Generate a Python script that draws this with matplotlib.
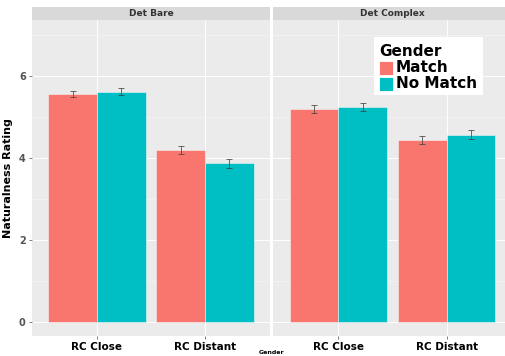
import matplotlib.pyplot as plt
from matplotlib.patches import Rectangle

# --- data ---
panels = ["Det Bare", "Det Complex"]
categories = ["RC Close", "RC Distant"]
groups = ["Match", "No Match"]
colors = ["#F8766D", "#00BFC4"]

bare_match = [5.55, 4.19]
bare_nomatch = [5.61, 3.86]
bare_match_err = [0.08, 0.105]
bare_nomatch_err = [0.085, 0.115]

complex_match = [5.19, 4.43]
complex_nomatch = [5.24, 4.56]
complex_match_err = [0.10, 0.105]
complex_nomatch_err = [0.10, 0.11]

yticks = [0, 2, 4, 6]

W, H = 506, 356
fig = plt.figure(figsize=(W / 100, H / 100), dpi=100)

def fx(px):
    return px / W

def fy(py):
    return 1 - py / H

panel_top, panel_bot, strip_top = 20, 336, 7
panel_w = 238
lefts = [32, 273.5]

series = [
    (bare_match, bare_nomatch, bare_match_err, bare_nomatch_err),
    (complex_match, complex_nomatch, complex_match_err, complex_nomatch_err),
]

for i, (title, (m, nm, me, nme)) in enumerate(zip(panels, series)):
    ax = fig.add_axes([fx(lefts[i]), fy(panel_bot), fx(panel_w), fy(panel_top) - fy(panel_bot)])
    ax.set_facecolor("#EBEBEB")
    xs = [1, 2]
    w = 0.45
    for vals, errs, off, c in [(m, me, -w / 2, colors[0]), (nm, nme, w / 2, colors[1])]:
        pos = [x + off for x in xs]
        ax.bar(pos, vals, width=w, color=c, edgecolor="#f4f4f4", linewidth=0.4, zorder=2)
        ax.errorbar(pos, vals, yerr=errs, fmt="none", ecolor="#444444", elinewidth=0.7,
                    capsize=2.5, capthick=0.7, alpha=0.8, zorder=3)
    ax.set_xlim(0.4, 2.6)
    ax.set_ylim(-0.35, 7.36)
    ax.set_yticks(yticks)
    ax.set_yticks([1, 3, 5, 7], minor=True)
    ax.set_xticks(xs)
    ax.set_xticklabels(categories, fontsize=7.5, fontweight="bold", color="black")
    ax.grid(True, which="major", color="white", linewidth=0.7, zorder=0)
    ax.grid(True, which="minor", axis="y", color="#F4F4F4", linewidth=0.5, zorder=0)
    ax.set_axisbelow(True)
    for s in ax.spines.values():
        s.set_visible(False)
    ax.tick_params(axis="both", which="major", length=2.5, color="#666666", width=0.6, pad=2)
    ax.tick_params(axis="both", which="minor", length=0)
    if i == 0:
        ax.set_yticklabels([str(t) for t in yticks], fontsize=7, fontweight="bold", color="#555555")
        ax.set_ylabel("Naturalness Rating", fontsize=8, fontweight="bold", labelpad=4)
    else:
        ax.tick_params(axis="y", left=False, labelleft=False)
    # strip
    sax = fig.add_axes([fx(lefts[i]), fy(panel_top), fx(panel_w), fy(strip_top) - fy(panel_top)])
    sax.set_facecolor("#D9D9D9")
    sax.set_xticks([])
    sax.set_yticks([])
    for s in sax.spines.values():
        s.set_visible(False)
    sax.text(0.5, 0.5, title, ha="center", va="center", fontsize=6.5, fontweight="bold",
             color="#333333", transform=sax.transAxes)

# legend
lx0, ly0, lx1, ly1 = 374, 37, 483, 95
fig.patches.append(Rectangle((fx(lx0), fy(ly1)), fx(lx1 - lx0), fy(ly0) - fy(ly1),
                             transform=fig.transFigure, facecolor="white", edgecolor="none", zorder=5))
fig.text(fx(379), fy(51), "Gender", fontsize=11, fontweight="bold", va="center", zorder=6)
for k, (g, c) in enumerate(zip(groups, colors)):
    cy = 68 + k * 16
    fig.patches.append(Rectangle((fx(379), fy(cy + 7)), fx(14), fy(cy - 7) - fy(cy + 7),
                                 transform=fig.transFigure, facecolor=c, edgecolor="white",
                                 linewidth=0.6, zorder=6))
    fig.text(fx(396), fy(cy), g, fontsize=11, fontweight="bold", va="center", zorder=6)

fig.text(fx(272), fy(352), "Gender", fontsize=4.5, fontweight="bold", ha="center", va="center")

fig.savefig("out.png", dpi=100)
